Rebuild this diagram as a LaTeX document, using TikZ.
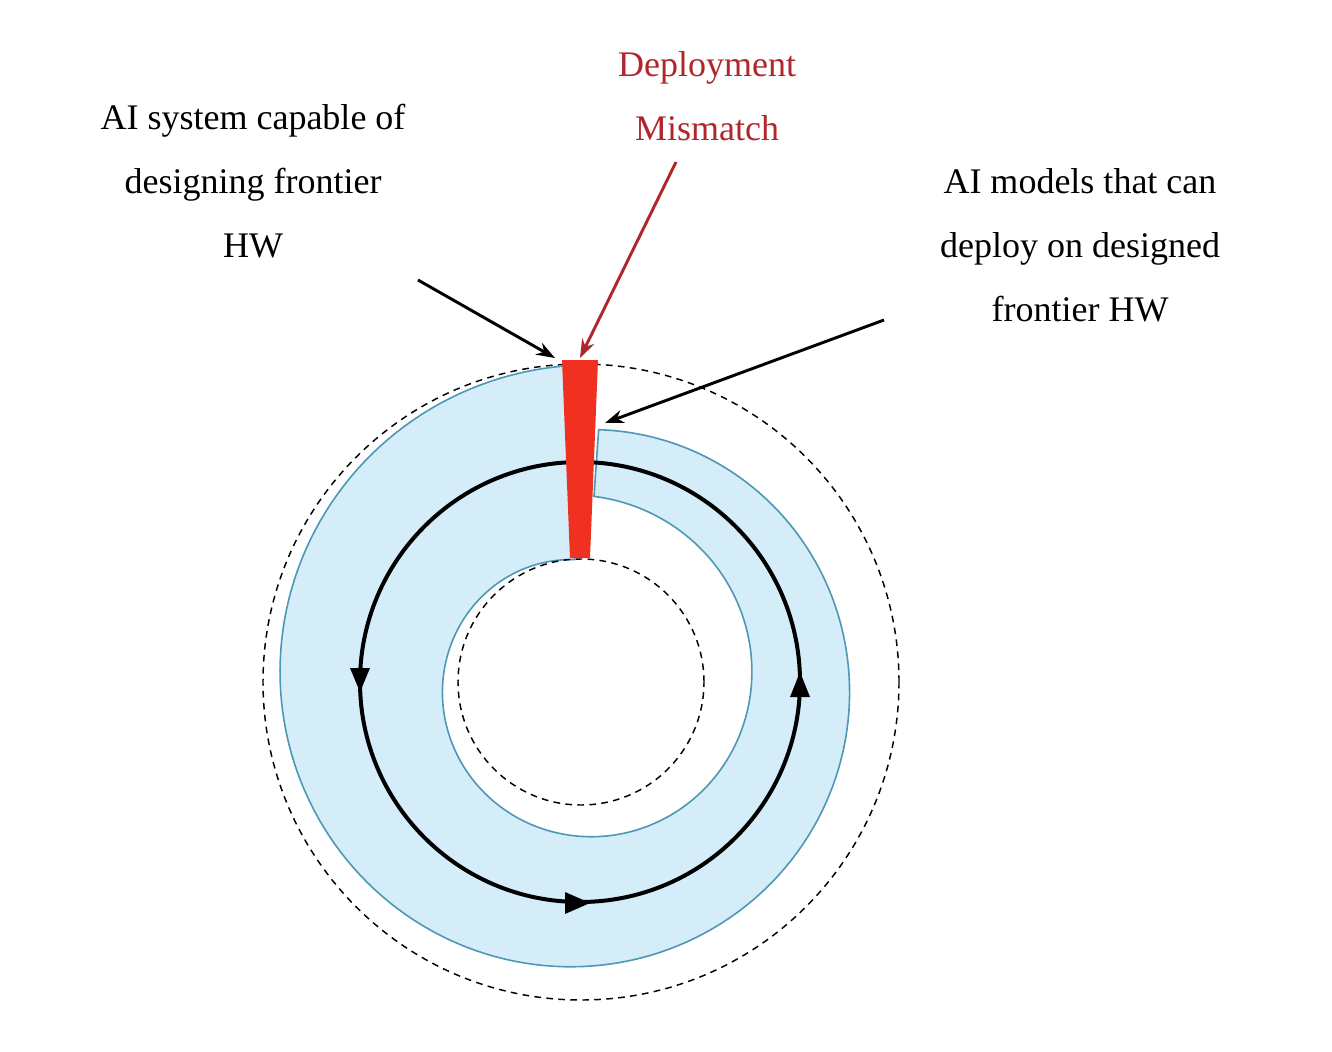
\documentclass[tikz,border=0pt]{standalone}
\usepackage{fontspec}
\setmainfont{Liberation Serif}
\usetikzlibrary{arrows.meta}
\definecolor{bfill}{HTML}{D4EDF9}
\definecolor{bline}{HTML}{4E97B5}
\definecolor{rbar}{HTML}{F03020}
\definecolor{rtext}{HTML}{B0262A}
\begin{document}
\begin{tikzpicture}[x=0.75pt,y=-0.75pt,
  lbl/.style={font=\fontsize{27}{48}\selectfont,align=center},
  ptr/.style={line width=2.2pt,-{Stealth[length=14pt,width=10pt]}},
  dashc/.style={dash pattern=on 5pt off 4pt,line width=1.1pt}]
\useasboundingbox (0,0) rectangle (1332,1052);
\fill[white] (0,0) rectangle (1332,1052);
\coordinate (c) at (581,682);
\draw[dashc] (c) circle[radius=238.5pt];
\filldraw[fill=bfill,draw=bline,line width=1.2pt]
  plot[domain=93:446,samples=180] ({581+(317-0.18*(\x-90))*cos(\x)},{682-(317-0.18*(\x-90))*sin(\x)})
  -- plot[domain=446:93,samples=180] ({581+(122+0.18*(\x-90))*cos(\x)},{682-(122+0.18*(\x-90))*sin(\x)}) -- cycle;
\draw[dashc] (c) circle[radius=92.25pt];
\draw[line width=3pt] (580,682) circle[radius=165pt];
\fill (350,668) -- (370,668) -- (360,692) -- cycle;
\fill (565,892) -- (565,914) -- (590,903) -- cycle;
\fill (790,697) -- (810,697) -- (800,672) -- cycle;
\fill[rbar] (562,360) coordinate (rt) -- (598,360) -- (590,558) -- (570,558) -- cycle;
\coordinate (redtip) at (580,358);
\node[lbl] (left) at (253,181) {AI system capable of\\designing frontier\\HW};
\node[lbl] (right) at (1080,245) {AI models that can\\deploy on designed\\frontier HW};
\node[lbl,text=rtext] (red) at (707,96) {Deployment\\Mismatch};
\coordinate (a1s) at (418,280); \coordinate (a1e) at (555,358);
\coordinate (a2s) at (884,320); \coordinate (a2e) at (605,423);
\coordinate (a3s) at (676,162);
\draw[ptr] (a1s) -- (a1e);
\draw[ptr] (a2s) -- (a2e);
\draw[ptr,rtext] (a3s) -- (redtip);
\end{tikzpicture}
\end{document}
